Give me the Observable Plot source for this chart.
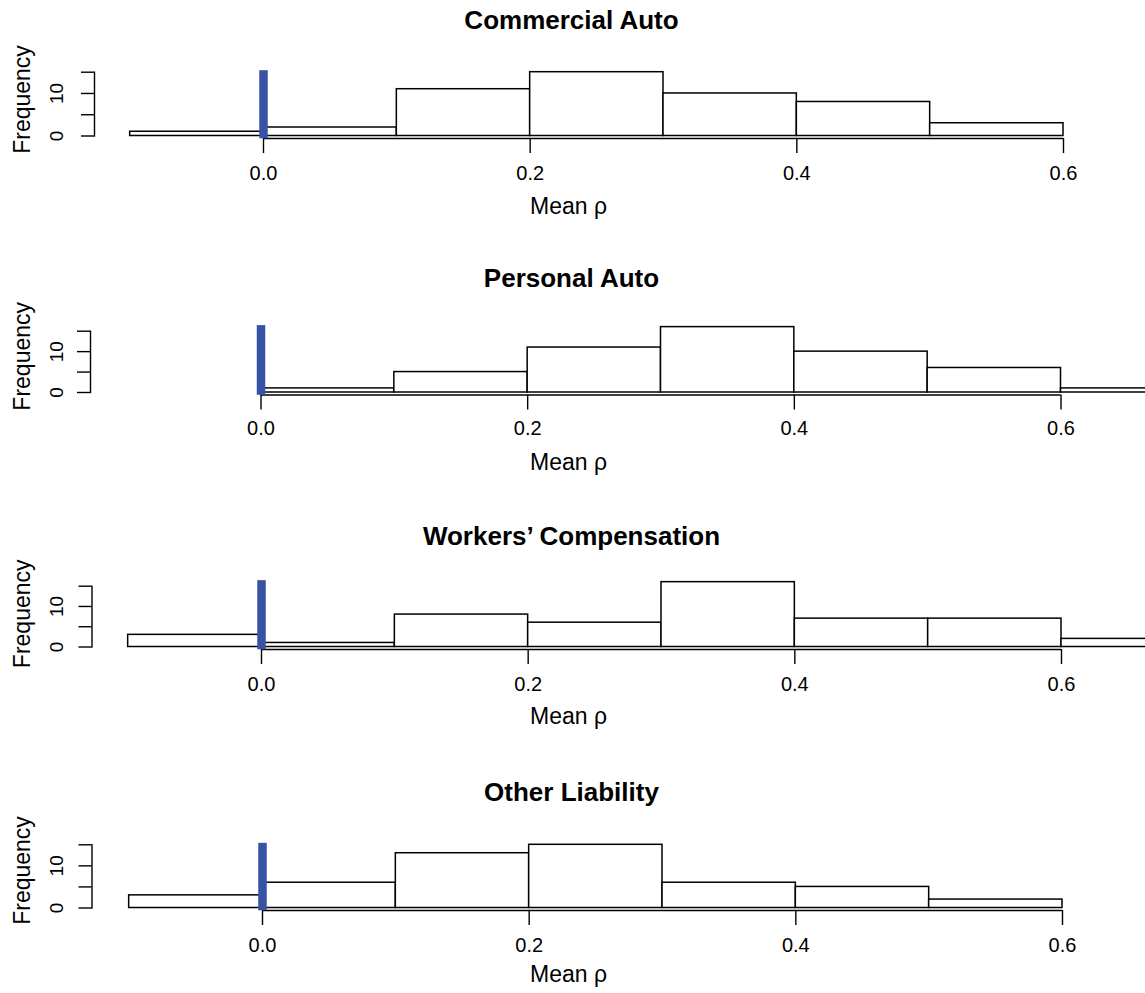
<!DOCTYPE html>
<html>
<head>
<meta charset="utf-8">
<script src="https://cdn.jsdelivr.net/npm/d3@7"></script>
<script src="https://cdn.jsdelivr.net/npm/@observablehq/plot@0.6"></script>
<style>
html, body { margin: 0; padding: 0; background: #fff; overflow: hidden; width: 1145px; height: 993px; }
#chart { position: relative; width: 1145px; height: 993px; }
.panel { position: absolute; left: 0; width: 1145px; }
.panel svg { display: block; overflow: hidden; }
</style>
</head>
<body>
<div id="chart"></div>
<script>
// ---- data ----
const lineNames = ["Commercial Auto", "Personal Auto", "Workers\u2019 Compensation", "Other Liability"];

const commercialAutoBreaks = [-0.1, 0.0, 0.1, 0.2, 0.3, 0.4, 0.5, 0.6];
const commercialAutoCounts = [1, 2, 11, 15, 10, 8, 3];

const personalAutoBreaks = [0.0, 0.1, 0.2, 0.3, 0.4, 0.5, 0.6, 0.7];
const personalAutoCounts = [1, 5, 11, 16, 10, 6, 1];

const workersCompBreaks = [-0.1, 0.0, 0.1, 0.2, 0.3, 0.4, 0.5, 0.6, 0.7];
const workersCompCounts = [3, 1, 8, 6, 16, 7, 7, 2];

const otherLiabilityBreaks = [-0.1, 0.0, 0.1, 0.2, 0.3, 0.4, 0.5, 0.6];
const otherLiabilityCounts = [3, 6, 13, 15, 6, 5, 2];

const xTicks = [0.0, 0.2, 0.4, 0.6];
const yTicks = [0, 5, 10, 15];
const yTickLabels = [0, 10];
const referenceRho = 0;
const xLabel = "Mean \u03c1";
const yLabel = "Frequency";

// ---- layout (pixel placement of each panel) ----
const layout = [
  {top: 0,   height: 256, y15: 71.7,  y0: 135.5, axisX: 94,   zeroX: 263,   titleY: 20,    tickY: 172.8, labelY: 206.5, freqY: 99},
  {top: 256, height: 255, y15: 330.7, y0: 392,   axisX: 90,   zeroX: 260.5, titleY: 278,   tickY: 428.5, labelY: 462,   freqY: 355.8},
  {top: 511, height: 257, y15: 585.7, y0: 646.5, axisX: 91.5, zeroX: 261,   titleY: 535.8, tickY: 684,   labelY: 716.5, freqY: 613.3},
  {top: 768, height: 225, y15: 844.3, y0: 907.5, axisX: 91.5, zeroX: 262,   titleY: 792,   tickY: 945,   labelY: 974.5, freqY: 870}
];

const series = [
  [commercialAutoBreaks, commercialAutoCounts],
  [personalAutoBreaks, personalAutoCounts],
  [workersCompBreaks, workersCompCounts],
  [otherLiabilityBreaks, otherLiabilityCounts]
];

const W = 1145;
const font = "'Liberation Sans', Arial, Helvetica, sans-serif";
const chart = document.getElementById("chart");
const centred = {textAnchor: "middle", lineAnchor: "middle"};

series.forEach(([breaks, counts], i) => {
  const L = layout[i];
  const bins = counts.map((c, j) => ({x1: breaks[j], x2: breaks[j + 1], count: c}));
  const maxCount = d3.max(counts);
  const mL = L.axisX;
  const mR = mL + W - 1142; // frame centred at x = 571
  const frameMid = ((L.y15 - L.top) + (L.y0 - L.top)) / 2 + L.top;

  const svg = Plot.plot({
    width: W,
    height: L.height,
    marginTop: L.y15 - L.top,
    marginBottom: L.top + L.height - L.y0,
    marginLeft: mL,
    marginRight: mR,
    x: {domain: [d3.min(xTicks), d3.max(xTicks)], range: [L.zeroX, L.zeroX + 800]},
    y: {domain: [d3.min(yTicks), d3.max(yTicks)]},
    style: {fontFamily: font, background: "white", overflow: "hidden", color: "black"},
    marks: [
      Plot.rectY(bins, {x1: "x1", x2: "x2", y: "count", fill: "white", stroke: "black", strokeWidth: 1.5}),
      Plot.ruleY([0], {x1: d3.min(xTicks), x2: d3.max(xTicks), dy: 2.5, stroke: "black", strokeWidth: 1.4}),
      Plot.axisX({ticks: xTicks, tickSize: 15, dy: 2.5, tickFormat: () => "", label: null, stroke: "black", strokeWidth: 1.4}),
      Plot.text(xTicks, {x: d => d, frameAnchor: "bottom", ...centred, dy: L.tickY - L.y0, text: d => d3.format(".1f")(d), fontSize: 20}),
      Plot.frame({anchor: "left", stroke: "black", strokeWidth: 1.4}),
      Plot.axisY({ticks: yTicks, tickSize: 13, tickFormat: () => "", label: null, stroke: "black", strokeWidth: 1.4}),
      Plot.text(yTickLabels, {y: d => d, frameAnchor: "left", ...centred, dx: 56.7 - mL, rotate: -90, fontSize: 19, text: d => String(d)}),
      Plot.text([yLabel], {frameAnchor: "left", ...centred, dx: 22 - mL, dy: L.freqY - frameMid, rotate: -90, fontSize: 23}),
      Plot.text([lineNames[i]], {frameAnchor: "top", ...centred, dy: L.titleY - L.y15, fontSize: 26, fontWeight: "bold"}),
      Plot.text([xLabel], {frameAnchor: "bottom", ...centred, dx: -3, dy: L.labelY - L.y0, fontSize: 23}),
      Plot.ruleX([referenceRho], {x: d => d, y1: maxCount, y2: 0, insetTop: -1.5, insetBottom: -2.8, stroke: "#3953a4", strokeWidth: 8.5})
    ]
  });

  const div = document.createElement("div");
  div.className = "panel";
  div.style.top = L.top + "px";
  div.style.height = L.height + "px";
  div.appendChild(svg);
  chart.appendChild(div);
});
</script>
</body>
</html>
